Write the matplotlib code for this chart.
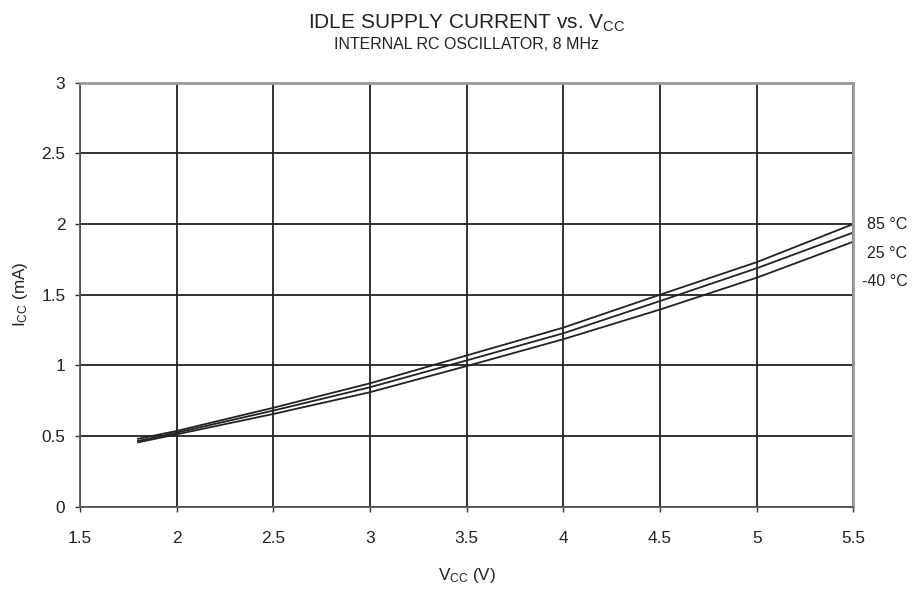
import numpy as np
import matplotlib.pyplot as plt

plt.rcParams['font.family'] = ['Liberation Sans', 'DejaVu Sans']
plt.rcParams['mathtext.fontset'] = 'custom'
plt.rcParams['mathtext.rm'] = 'Liberation Sans'

# ---------------- data ---------------- #
vcc = [1.8, 2.0, 2.5, 3.0, 3.5, 4.0, 4.5, 5.0, 5.5]
icc_85 = [0.48, 0.536, 0.70, 0.873, 1.07, 1.267, 1.50, 1.73, 2.00]
icc_25 = [0.465, 0.524, 0.68, 0.845, 1.035, 1.227, 1.455, 1.687, 1.94]
icc_m40 = [0.455, 0.512, 0.656, 0.81, 0.995, 1.185, 1.395, 1.62, 1.875]
labels = ["85 °C", "25 °C", "-40 °C"]

xticks = [1.5, 2, 2.5, 3, 3.5, 4, 4.5, 5, 5.5]
xticklabels = ["1.5", "2", "2.5", "3", "3.5", "4", "4.5", "5", "5.5"]
yticks = [0, 0.5, 1, 1.5, 2, 2.5, 3]
yticklabels = ["0", "0.5", "1", "1.5", "2", "2.5", "3"]

# ---------------- plot ---------------- #
fig = plt.figure(figsize=(9.14, 5.92), dpi=100)
ax = fig.add_axes([0.0875, 0.1441, 0.8461, 0.7162])

for series in [icc_85, icc_25, icc_m40]:
    ax.plot(vcc, series, color="#222222", linewidth=1.3)

ax.set_xlim(1.5, 5.5)
ax.set_ylim(0, 3)
ax.set_xticks(xticks)
ax.set_xticklabels(xticklabels)
ax.set_yticks(yticks)
ax.set_yticklabels(yticklabels)
ax.grid(True, color="#222222", linewidth=1.3)
ax.set_axisbelow(True)

ax.tick_params(axis="both", direction="out", length=3.6, width=1, color="#333333",
               labelsize=12.4, labelcolor="#222222")
ax.tick_params(axis="x", pad=14)
ax.tick_params(axis="y", pad=7)
for side in ["left", "bottom"]:
    ax.spines[side].set_color("#555555")
    ax.spines[side].set_linewidth(1.3)
for side in ["top", "right"]:
    ax.spines[side].set_color("#999999")
    ax.spines[side].set_linewidth(2)

# curve labels at right edge
offsets = [(9.6, 0), (9.6, -21), (6.5, -41.5)]
for lab, off in zip(labels, offsets):
    ax.annotate(lab, xy=(5.5, icc_85[-1]), xytext=off, textcoords="offset points",
                ha="left", va="center", fontsize=11.5, color="#222222",
                annotation_clip=False)

ax.set_xlabel(r"$\mathregular{V_{CC}}$ (V)", fontsize=12.3, color="#222222", labelpad=14)
ax.set_ylabel(r"$\mathregular{I_{CC}}$ (mA)", fontsize=12.3, color="#222222", labelpad=8)

fig.text(0.5106, 0.952, r"IDLE SUPPLY CURRENT vs. $\mathregular{V_{CC}}$",
         ha="center", va="baseline", fontsize=15, color="#222222")
fig.text(0.5106, 0.9167, "INTERNAL RC OSCILLATOR, 8 MHz",
         ha="center", va="baseline", fontsize=11.5, color="#222222")

fig.savefig("out.png", dpi=100)
